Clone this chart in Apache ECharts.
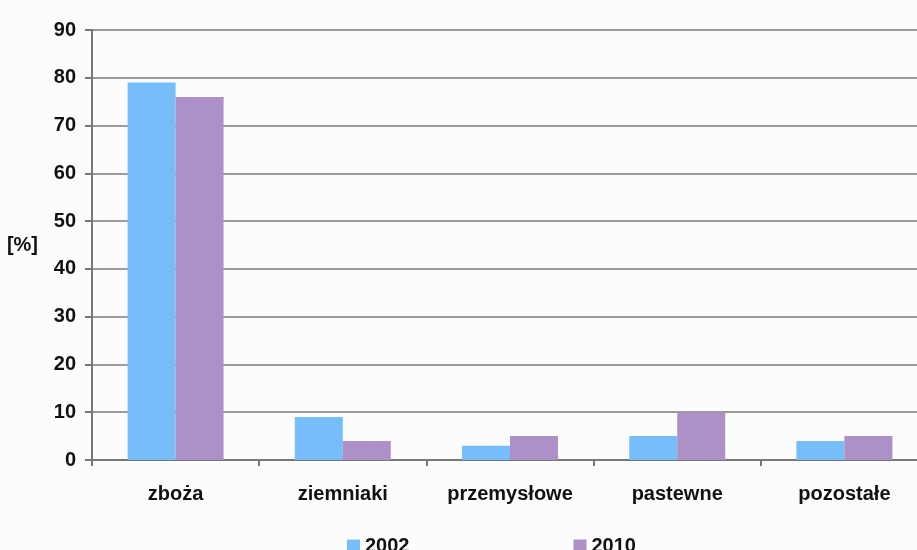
<!DOCTYPE html>
<html>
<head>
<meta charset="utf-8">
<script src="https://cdn.jsdelivr.net/npm/echarts@6/dist/echarts.min.js"></script>
<style>
  html, body { margin: 0; padding: 0; background: #fcfcfc; }
  #main { width: 917px; height: 550px; }
</style>
</head>
<body>
<div id="main"></div>
<script>
const categories = ['zboża', 'ziemniaki', 'przemysłowe', 'pastewne', 'pozostałe'];
const values2002 = [79, 9, 3, 5, 4];
const values2010 = [76, 4, 5, 10, 5];
const yTicks = [0, 10, 20, 30, 40, 50, 60, 70, 80, 90];

const chart = echarts.init(document.getElementById('main'));

const labelFont = {
  fontFamily: 'Liberation Sans, Arial, sans-serif',
  fontWeight: 'bold',
  fontSize: 20,
  color: '#111'
};

const option = {
  backgroundColor: '#fcfcfc',
  color: ['#76BEFA', '#AD90C5'],
  animation: false,
  legend: {
    left: 342,
    top: 531,
    itemWidth: 13,
    itemHeight: 13,
    itemGap: 164,
    icon: 'rect',
    textStyle: labelFont,
    data: ['2002', '2010']
  },
  grid: {
    left: 92,
    right: -11,
    top: 30,
    bottom: 90,
    outerBoundsMode: 'none',
    containLabel: false
  },
  xAxis: {
    type: 'category',
    data: categories,
    axisLine: { lineStyle: { color: '#777', width: 2 } },
    axisTick: { show: true, length: 6, lineStyle: { color: '#777', width: 2 } },
    axisLabel: Object.assign({ margin: 24 }, labelFont)
  },
  yAxis: {
    type: 'value',
    min: yTicks[0],
    max: yTicks[yTicks.length - 1],
    interval: 10,
    name: '[%]',
    nameLocation: 'middle',
    nameGap: 54,
    nameRotate: 0,
    nameTextStyle: labelFont,
    axisLine: { show: true, lineStyle: { color: '#777', width: 2 } },
    axisTick: { show: true, length: 7, lineStyle: { color: '#777', width: 2 } },
    axisLabel: Object.assign({ margin: 16 }, labelFont),
    splitLine: { lineStyle: { color: '#9a9a9a', width: 2 } }
  },
  series: [
    {
      name: '2002',
      type: 'bar',
      barWidth: 48,
      barGap: '0%',
      data: values2002
    },
    {
      name: '2010',
      type: 'bar',
      barWidth: 48,
      data: values2010
    }
  ]
};

chart.setOption(option);
</script>
</body>
</html>
